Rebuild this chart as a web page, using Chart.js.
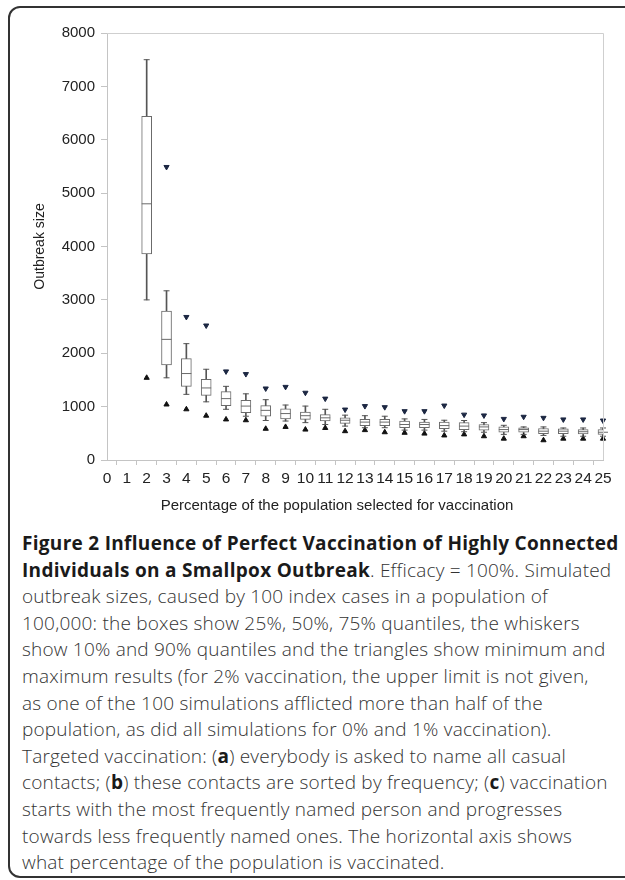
<!DOCTYPE html>
<html>
<head>
<meta charset="utf-8">
<script src="https://cdn.jsdelivr.net/npm/chart.js@4"></script>
<style>
  html, body { margin: 0; padding: 0; background: #fff; }
  body { width: 625px; height: 880px; position: relative; overflow: hidden; }
  #frame {
    position: absolute; left: 8px; top: 6px; width: 700px; height: 868px;
    border: 2px solid #333; border-radius: 12px 0 0 12px;
  }
  #chartWrap { position: absolute; left: 0; top: 0; width: 625px; height: 518px; }
  #xTitle {
    position: absolute; left: 0; top: 496px; width: 674px; text-align: center;
    font-family: "Liberation Sans", Arial, sans-serif; font-size: 15px; color: #222;
  }
  #caption {
    position: absolute; left: 22px; top: 530px;
    font-family: "Open Sans", sans-serif; font-size: 19px; line-height: 26.6px;
    font-weight: 300; color: #333; white-space: nowrap; letter-spacing: 0.2px;
  }
  #caption b { color: #1a1a1a; font-weight: 700; letter-spacing: 0.3px; }
</style>
</head>
<body>
<div id="frame"></div>
<div id="chartWrap"><canvas id="chartBox"></canvas></div>
<div id="xTitle">Percentage of the population selected for vaccination</div>
<div id="caption">
<b>Figure 2 Influence of Perfect Vaccination of Highly Connected</b><br>
<b>Individuals on a Smallpox Outbreak</b>. Efficacy = 100%. Simulated<br>
outbreak sizes, caused by 100 index cases in a population of<br>
100,000: the boxes show 25%, 50%, 75% quantiles, the whiskers<br>
show 10% and 90% quantiles and the triangles show minimum and<br>
maximum results (for 2% vaccination, the upper limit is not given,<br>
as one of the 100 simulations afflicted more than half of the<br>
population, as did all simulations for 0% and 1% vaccination).<br>
Targeted vaccination: (<b>a</b>) everybody is asked to name all casual<br>
contacts; (<b>b</b>) these contacts are sorted by frequency; (<b>c</b>) vaccination<br>
starts with the most frequently named person and progresses<br>
towards less frequently named ones. The horizontal axis shows<br>
what percentage of the population is vaccinated.
</div>
<script>
// percentage vaccinated (0..25)
const percents = ['0','1','2','3','4','5','6','7','8','9','10','11','12','13','14','15','16','17','18','19','20','21','22','23','24','25'];

// quantiles (null = no data)
const p90 = [null,null,7500,3170,2180,1700,1380,1240,1130,1030,1010,950,840,830,820,770,760,745,740,700,650,620,620,600,600,600];
const q75 = [null,null,6440,2790,1900,1510,1280,1120,1020,960,900,850,790,760,760,730,710,710,700,665,620,605,590,585,570,570];
const q50 = [null,null,4800,2260,1620,1350,1150,1010,930,870,830,790,745,710,710,665,665,645,635,620,570,570,540,540,530,520];
const q25 = [null,null,3860,1780,1380,1210,1020,885,820,770,760,730,685,645,645,605,605,585,570,560,520,520,495,495,490,480];
const p10 = [null,null,3000,1540,1230,1090,950,820,740,730,700,665,635,605,605,560,560,540,530,520,480,480,460,445,445,445];
const minVals = [null,null,1540,1040,950,830,760,745,585,620,570,600,540,560,520,510,495,460,480,445,400,445,370,400,400,400];
const maxVals = [null,null,null,5490,2680,2520,1660,1610,1340,1370,1260,1150,945,1010,990,915,915,1020,850,835,770,810,790,760,760,740];

const yTicks = [0,1000,2000,3000,4000,5000,6000,7000,8000];

const whiskers = p10.map((v, i) => v == null ? null : [v, p90[i]]);
const boxes = q25.map((v, i) => v == null ? null : [v, q75[i]]);

// light grey top + right edge of the plot
const plotFrame = {
  id: 'plotFrame',
  afterDraw(chart) {
    const {ctx, chartArea} = chart;
    ctx.save();
    ctx.strokeStyle = '#cfcfcf';
    ctx.lineWidth = 1;
    ctx.beginPath();
    ctx.moveTo(chartArea.left, chartArea.top + 0.5);
    ctx.lineTo(chartArea.right + 0.5, chartArea.top + 0.5);
    ctx.lineTo(chartArea.right + 0.5, chartArea.bottom);
    ctx.stroke();
    ctx.restore();
  }
};

const pointSet = (data, style, radius, color, rotation) => ({
  type: 'line',
  data: data,
  showLine: false,
  pointStyle: style,
  pointRadius: radius,
  pointHoverRadius: radius,
  pointRotation: rotation || 0,
  borderColor: color,
  backgroundColor: color,
  borderWidth: 1,
  order: 0
});

const chartBox = document.querySelector('#chartBox').getContext('2d');

let boxChart = new Chart(chartBox, {
  type: 'bar',
  data: {
    labels: percents,
    datasets: [
      {
        label: 'whisker',
        data: whiskers,
        backgroundColor: '#555',
        barThickness: 1,
        grouped: false,
        order: 3
      },
      {
        label: 'box',
        data: boxes,
        backgroundColor: '#fff',
        borderColor: '#6a6a6a',
        borderWidth: 1,
        borderSkipped: false,
        barThickness: 10,
        grouped: false,
        order: 2
      },
      pointSet(q50, 'line', 5, '#6a6a6a'),
      pointSet(p90, 'line', 3, '#555'),
      pointSet(p10, 'line', 3, '#555'),
      pointSet(maxVals, 'triangle', 3, '#1c2742', 180),
      pointSet(minVals, 'triangle', 3, '#111')
    ]
  },
  options: {
    responsive: true,
    maintainAspectRatio: false,
    animation: false,
    layout: { padding: { left: 28, right: 22, top: 33, bottom: 0 } },
    plugins: {
      legend: { display: false },
      tooltip: { enabled: false }
    },
    scales: {
      x: {
        offset: false,
        grid: { drawOnChartArea: false, drawTicks: true, tickLength: 5, color: '#c4c4c4' },
        border: { color: '#c4c4c4' },
        ticks: {
          autoSkip: false, maxRotation: 0, padding: 4, color: '#222',
          font: { family: 'Liberation Sans', size: 15.5 }
        },
        afterFit: (scale) => { scale.height = 58; }
      },
      y: {
        min: 0,
        max: 8000,
        afterBuildTicks: (scale) => { scale.ticks = yTicks.map(v => ({ value: v })); },
        grid: { drawOnChartArea: false, drawTicks: true, tickLength: 6, color: '#c4c4c4' },
        border: { color: '#c4c4c4' },
        ticks: {
          padding: 6, color: '#222',
          font: { family: 'Liberation Sans', size: 15 },
          callback: (value) => String(value)
        },
        title: {
          display: true,
          text: 'Outbreak size',
          color: '#222',
          font: { family: 'Liberation Sans', size: 14 }
        },
        afterFit: (scale) => { scale.width = 79; }
      }
    }
  },
  plugins: [plotFrame]
});
</script>
</body>
</html>
